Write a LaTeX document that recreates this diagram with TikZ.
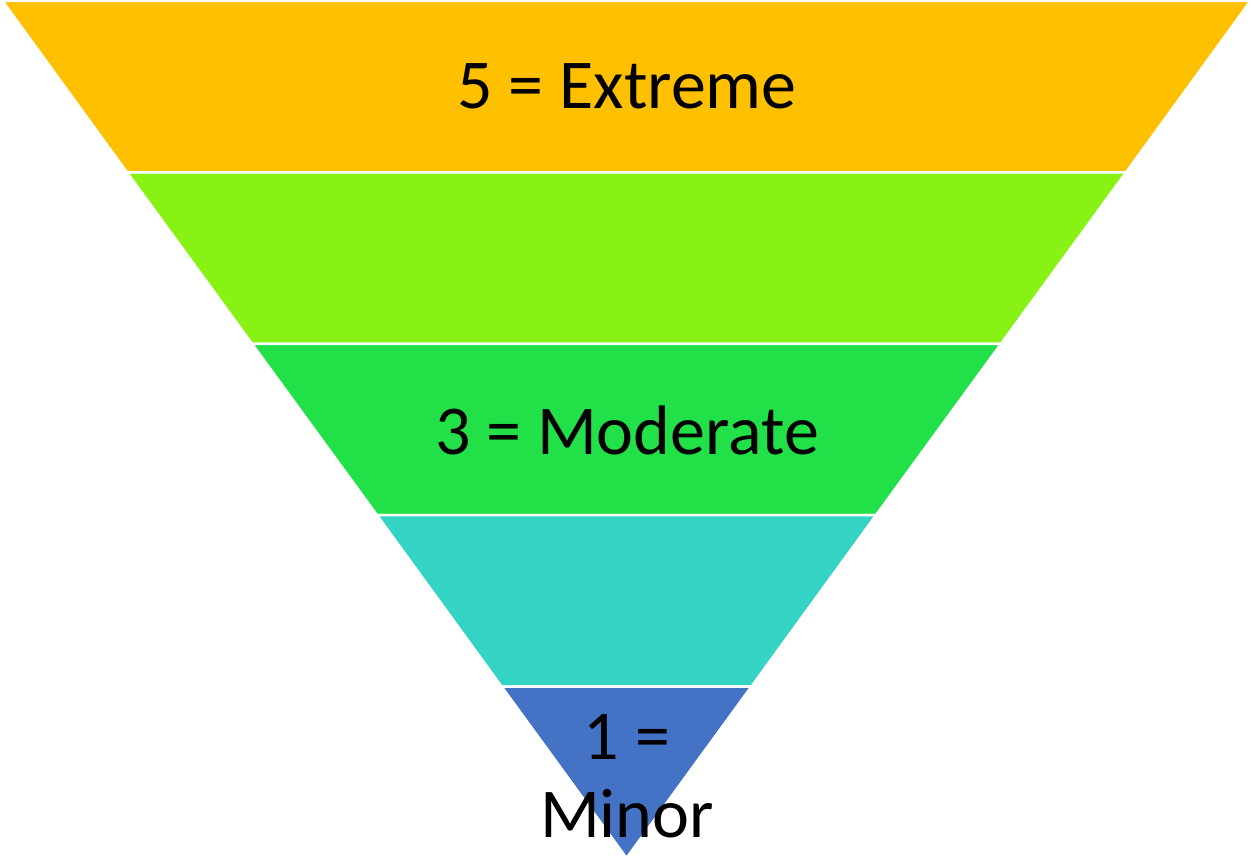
\documentclass[tikz,border=0pt]{standalone}
\usepackage{fontspec}
\setmainfont{Carlito}
\definecolor{cOrange}{HTML}{FFC000}
\definecolor{cLime}{HTML}{87F213}
\definecolor{cGreen}{HTML}{22E047}
\definecolor{cTeal}{HTML}{33D4C4}
\definecolor{cBlue}{HTML}{4472C4}
\begin{document}
\begin{tikzpicture}[x=1pt,y=-1pt,
  band/.style={draw=white,line width=2.5pt,line join=miter},
  lbl/.style={font=\fontsize{70}{78}\selectfont,text=black,align=center,inner sep=0pt}]
\useasboundingbox (0,0) rectangle (1251,861);
\fill[band,fill=cOrange] (2.5,1) -- (1250.5,1) -- (1126,172.4) -- (127,172.4) -- cycle;
\fill[band,fill=cLime] (127,172.4) -- (1126,172.4) -- (1001,343.8) -- (252,343.8) -- cycle;
\fill[band,fill=cGreen] (252,343.8) -- (1001,343.8) -- (876,515.2) -- (377,515.2) -- cycle;
\fill[band,fill=cTeal] (377,515.2) -- (876,515.2) -- (751.4,686.6) -- (501.6,686.6) -- cycle;
\fill[band,fill=cBlue] (501.6,686.6) -- (751.4,686.6) -- (626.5,858) -- cycle;
\node[lbl] (t5) at (627,86) {5 = Extreme};
\node[lbl] (t3) at (627,430) {3 = Moderate};
\node[lbl] (t1) at (627,776) {1 =\\Minor};
\end{tikzpicture}
\end{document}
